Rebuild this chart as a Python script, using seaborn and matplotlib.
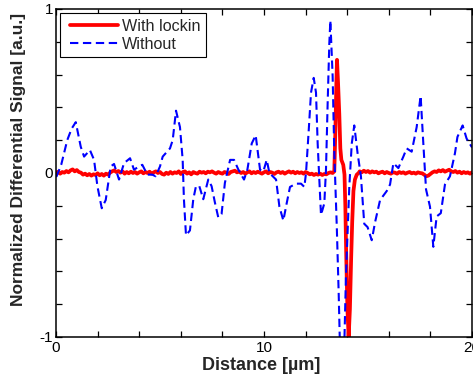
import numpy as np
import pandas as pd
import matplotlib
matplotlib.use("Agg")
import matplotlib.pyplot as plt
from matplotlib.legend_handler import HandlerLine2D
import seaborn as sns

# ---------------- data ----------------
# "Without" (blue dashed) trace: distance [um], signal
blue_x = [0.0, 0.03, 0.25, 0.54, 0.75, 0.95, 1.19, 1.35, 1.63, 1.83, 1.99, 2.2, 2.39, 2.63,
          2.79, 3.03, 3.27, 3.56, 3.75, 3.99, 4.15, 4.39, 4.63, 4.79, 5.0, 5.13, 5.48, 5.61,
          5.77, 5.96, 6.09, 6.15, 6.25, 6.44, 6.6, 6.73, 6.89, 7.08, 7.32, 7.48, 7.64, 7.8,
          7.96, 8.12, 8.37, 8.56, 8.77, 9.04, 9.2, 9.41, 9.6, 9.73, 9.81, 9.97, 10.13, 10.26,
          10.58, 10.74, 10.93, 11.09, 11.25, 11.54, 11.78, 11.94, 12.02, 12.15, 12.26, 12.39,
          12.5, 12.58, 12.66, 12.74, 12.9, 12.98, 13.06, 13.14, 13.19, 13.3, 13.38, 13.5,
          13.59, 13.65, 13.86, 13.94, 14.1, 14.22, 14.34, 14.5, 14.66, 14.82, 14.98, 15.18,
          15.34, 15.58, 15.9, 16.06, 16.22, 16.46, 16.7, 16.86, 17.1, 17.34, 17.53, 17.66,
          17.79, 17.98, 18.14, 18.3, 18.5, 18.7, 18.94, 19.18, 19.3, 19.55, 19.74, 19.98, 20.0]
blue_y = [-0.02, -0.02, 0.05, 0.20, 0.27, 0.31, 0.16, 0.10, 0.14, 0.08, -0.08, -0.215, -0.165, 0.04,
          0.055, -0.04, 0.06, 0.09, 0.02, 0.04, 0.05, -0.01, -0.01, -0.02, 0.04, 0.10, 0.15, 0.20,
          0.38, 0.28, 0.08, -0.16, -0.38, -0.35, -0.16, -0.08, -0.08, -0.16, -0.04, -0.08, -0.18, -0.27,
          -0.25, -0.06, 0.08, 0.08, 0.02, -0.04, 0.02, 0.18, 0.23, 0.10, 0.02, 0.01, 0.08, 0.0,
          -0.04, -0.205, -0.29, -0.185, -0.085, -0.065, -0.065, -0.085, 0.0, 0.26, 0.49, 0.58,
          0.49, 0.18, -0.04, -0.256, -0.185, 0.02, 0.425, 0.79, 0.93, 0.59, 0.12, -0.33,
          -0.73, -1.05, -1.05, -0.63, -0.085, 0.18, 0.29, 0.12, -0.02, -0.31, -0.33, -0.41,
          -0.30, -0.165, -0.11, -0.07, 0.06, 0.03, 0.10, 0.15, 0.13, 0.28, 0.47, 0.18,
          -0.10, -0.205, -0.45, -0.265, -0.245, -0.07, -0.02, 0.12, 0.22, 0.29, 0.21, 0.16, 0.16]

# "With lockin" (red) trace: baseline before the feature (0 .. 13.2 um, 0.1 um steps),
# the feature itself, baseline after (14.6 .. 20 um, 0.1 um steps)
red_base1_y = [
    0.000, 0.008, -0.004, 0.006, 0.002, 0.012, 0.004, 0.016, 0.022, 0.010,
    0.018, 0.006, 0.002, -0.010, -0.004, -0.014, -0.006, -0.016, -0.008, -0.012,
    -0.002, -0.014, -0.006, -0.016, -0.004, -0.010, 0.002, 0.010, 0.016, 0.006,
    0.012, 0.002, 0.010, -0.004, 0.006, -0.002, 0.008, 0.000, 0.006, -0.004,
    0.004, 0.010, -0.002, 0.006, 0.000, 0.008, -0.004, 0.004, 0.010, 0.000,
    0.006, -0.006, -0.010, 0.002, -0.006, 0.006, -0.004, 0.004, 0.000, 0.010,
    -0.006, 0.006, 0.010, -0.004, 0.004, -0.008, 0.006, 0.000, -0.004, 0.008,
    0.002, 0.006, -0.002, 0.008, 0.004, 0.010, 0.002, -0.004, 0.006, 0.000,
    -0.004, 0.006, 0.002, -0.006, 0.006, 0.010, 0.014, 0.004, 0.008, 0.000,
    0.006, -0.004, 0.004, 0.010, -0.002, 0.006, 0.000, 0.008, 0.002, -0.004,
    0.004, 0.010, -0.002, 0.006, 0.002, -0.006, 0.004, 0.008, 0.000, 0.006,
    -0.004, 0.004, 0.010, 0.002, 0.008, -0.002, 0.006, 0.000, 0.004, -0.004,
    0.006, 0.000, -0.008, -0.004, -0.012, -0.006, -0.010, -0.004, -0.012, -0.006,
    -0.008, 0.000, 0.004]
red_base1_range = (0.0, 13.2)
red_peak_x = [13.3, 13.38, 13.43, 13.48, 13.51, 13.56, 13.62, 13.67, 13.72, 13.81, 13.87,
              13.91, 13.95, 14.01, 14.07, 14.13, 14.19, 14.24, 14.3, 14.37, 14.46, 14.55]
red_peak_y = [0.0, 0.01, 0.25, 0.55, 0.69, 0.55, 0.36, 0.15, 0.08, 0.05, -0.01,
              -0.2, -0.48, -0.83, -1.0, -0.83, -0.52, -0.30, -0.11, -0.04, -0.01, 0.0]
red_base2_y = [
    0.010, 0.004, 0.014, 0.006, 0.012, 0.002, 0.010, 0.004, 0.008, -0.002,
    0.004, 0.008, -0.002, 0.006, 0.000, -0.004, 0.004, 0.002, -0.004, 0.006,
    0.000, 0.004, -0.004, 0.002, 0.006, -0.002, 0.002, -0.004, 0.004, 0.000,
    -0.002, -0.010, -0.020, -0.016, -0.006, 0.004, 0.010, 0.006, 0.016, 0.010,
    0.018, 0.008, 0.014, 0.020, 0.010, 0.006, 0.012, 0.002, 0.008, -0.002,
    0.006, 0.000, 0.004, -0.004, 0.004]
red_base2_range = (14.6, 20.0)

x_ticks = [0, 2, 4, 6, 8, 10, 12, 14, 16, 18, 20]
x_tick_labels = ["0", "", "", "", "", "10", "", "", "", "", "20"]
y_ticks = [-1, -0.8, -0.6, -0.4, -0.2, 0, 0.2, 0.4, 0.6, 0.8, 1]
y_tick_labels = ["-1", "", "", "", "", "0", "", "", "", "", "1"]

red_x = (list(np.linspace(*red_base1_range, len(red_base1_y))) + red_peak_x +
         list(np.linspace(*red_base2_range, len(red_base2_y))))
red_y = red_base1_y + red_peak_y + red_base2_y
df_red = pd.DataFrame({"x": red_x, "y": red_y})
df_blue = pd.DataFrame({"x": blue_x, "y": blue_y})

# ---------------- plot ----------------
sns.set_style("ticks")
plt.rcParams["font.family"] = ["Liberation Sans", "DejaVu Sans"]

fig = plt.figure(figsize=(4.73, 3.76), dpi=100)
ax = fig.add_axes([56 / 473, 1 - 337 / 376, 416 / 473, 328 / 376])

sns.lineplot(data=df_red, x="x", y="y", ax=ax, color="#ff0000", lw=2.7,
             estimator=None, sort=False, label="With lockin")
sns.lineplot(data=df_blue, x="x", y="y", ax=ax, color="#0000ff", lw=1.5,
             estimator=None, sort=False, label="Without")
ax.lines[-1].set_linestyle((0, (4.0, 2.2)))

ax.set_xlim(0, 20)
ax.set_ylim(-1, 1)
ax.set_xticks(x_ticks)
ax.set_xticklabels(x_tick_labels)
ax.set_yticks(y_ticks)
ax.set_yticklabels(y_tick_labels)
ax.tick_params(direction="in", length=4, width=0.9, top=True, right=True,
               labelsize=11, colors="black", pad=3)
ax.tick_params(axis="y", pad=2)
for s in ax.spines.values():
    s.set_visible(True)
    s.set_color("black")
    s.set_linewidth(1.1)

ax.set_xlabel("Distance [µm]", fontsize=13, fontweight="bold")
ax.set_ylabel("Normalized Differential Signal [a.u.]", fontsize=12.5, fontweight="bold")
ax.xaxis.set_label_coords(0.493, -0.062)
ax.yaxis.set_label_coords(-0.073, 0.54)

h, l = ax.get_legend_handles_labels()
leg = ax.legend(h, l, loc="upper left", bbox_to_anchor=(0.01, 0.988), fontsize=11.6,
                frameon=True, fancybox=False, edgecolor="black", framealpha=1,
                handlelength=3.2, handletextpad=0.25, borderpad=0.36, labelspacing=0.18,
                borderaxespad=0.0,
                handler_map={type(h[0]): HandlerLine2D(xpad=0.25)})
leg.get_frame().set_linewidth(0.8)

fig.savefig("out.png", dpi=100)
